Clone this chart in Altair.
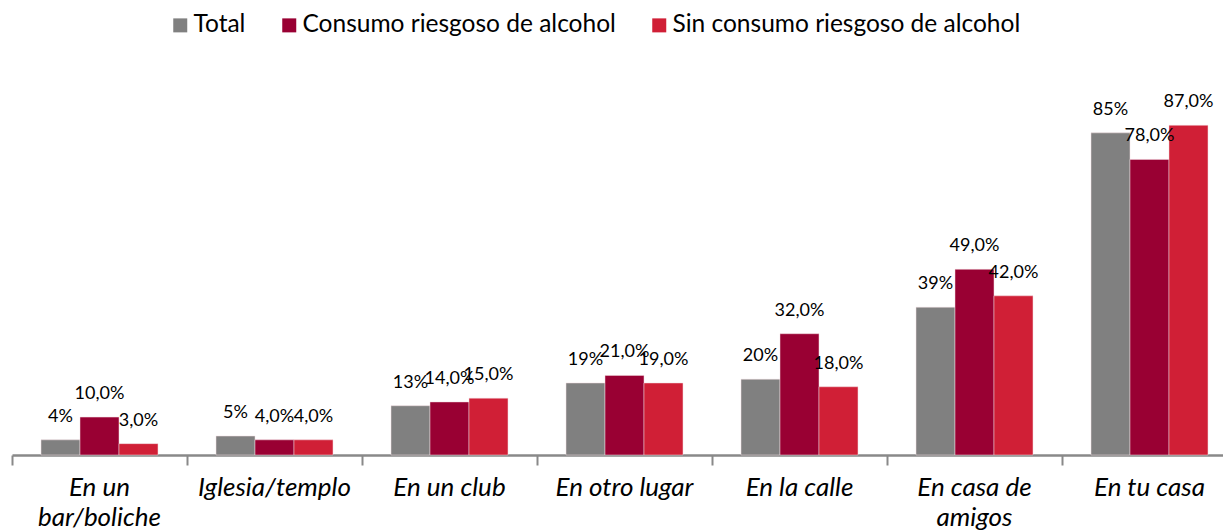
import altair as alt
import pandas as pd

categories = ["En un\nbar/boliche", "Iglesia/templo", "En un club", "En otro lugar",
              "En la calle", "En casa de\namigos", "En tu casa"]
series = ["Total", "Consumo riesgoso de alcohol", "Sin consumo riesgoso de alcohol"]
total = [4, 5, 13, 19, 20, 39, 85]
riesgoso = [10, 4, 14, 21, 32, 49, 78]
sin_riesgo = [3, 4, 15, 19, 18, 42, 87]
colors = ["#808080", "#990033", "#D01F36"]

rows = []
for i, c in enumerate(categories):
    rows.append({"category": c, "series": series[0], "value": total[i],
                 "label": f"{total[i]:.0f}%"})
    rows.append({"category": c, "series": series[1], "value": riesgoso[i],
                 "label": f"{riesgoso[i]:.1f}%".replace(".", ",")})
    rows.append({"category": c, "series": series[2], "value": sin_riesgo[i],
                 "label": f"{sin_riesgo[i]:.1f}%".replace(".", ",")})
df = pd.DataFrame(rows)

FONT = "Lato"

base = alt.Chart(df).encode(
    x=alt.X("category:N", sort=categories, title=None,
            scale=alt.Scale(range=[0, 1225], paddingInner=0, paddingOuter=0),
            axis=alt.Axis(bandPosition=0, labelAngle=0, labelFont=FONT, labelFontSize=26,
                          labelFontStyle="italic", labelColor="#000000",
                          labelExpr="split(datum.label, '\\n')", labelLineHeight=30,
                          labelPadding=9, tickSize=10, tickColor="#898989", tickWidth=2,
                          domainColor="#898989", domainWidth=2.5, labelLimit=300)),
    xOffset=alt.XOffset("series:N", sort=series,
                        scale=alt.Scale(paddingInner=0, paddingOuter=0.744)),
    y=alt.Y("value:Q", scale=alt.Scale(domain=[0, 100]), axis=None),
)

bars = base.mark_bar(stroke="#f2dde0", strokeWidth=0.5).encode(
    color=alt.Color("series:N", sort=series,
                    scale=alt.Scale(domain=series, range=colors),
                    legend=alt.Legend(title=None, orient="none", legendX=156, legendY=-63,
                                      direction="horizontal", symbolType="square",
                                      symbolSize=196, symbolStrokeWidth=0,
                                      labelFont=FONT, labelFontSize=24.5, labelColor="#000000",
                                      labelOffset=1, columnPadding=31, labelLimit=600))
)

text = base.mark_text(dy=-18, baseline="alphabetic", font=FONT, fontSize=18,
                      color="#000000").encode(text="label:N")

chart = alt.layer(bars, text).properties(
    width=1211, height=379,
    autosize=alt.AutoSizeParams(type="none"),
    padding={"left": 4, "top": 68, "right": 0, "bottom": 76},
).configure_view(stroke=None)

chart.save("out.html", embed_options={"renderer": "svg", "actions": False})
